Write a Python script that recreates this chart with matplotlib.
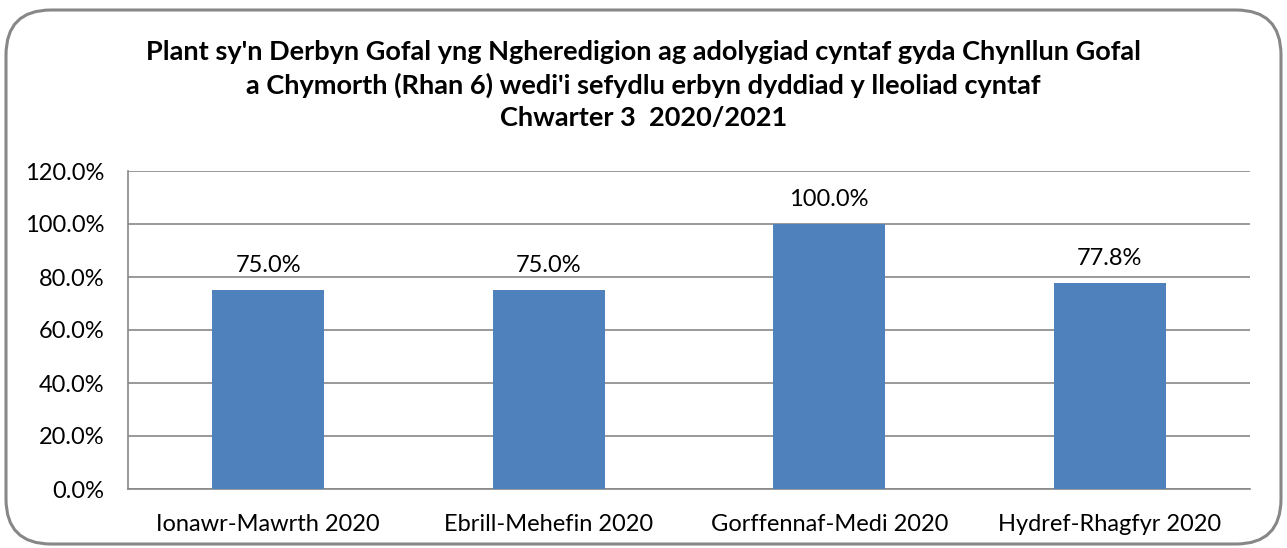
import matplotlib.pyplot as plt
from matplotlib.patches import FancyBboxPatch

# data
categories = ['Ionawr-Mawrth 2020', 'Ebrill-Mehefin 2020', 'Gorffennaf-Medi 2020', 'Hydref-Rhagfyr 2020']
values = [75.0, 75.0, 100.0, 77.8]
yticks = [0, 20, 40, 60, 80, 100, 120]
title = ("Plant sy'n Derbyn Gofal yng Ngheredigion ag adolygiad cyntaf gyda Chynllun Gofal\n"
         "a Chymorth (Rhan 6) wedi'i sefydlu erbyn dyddiad y lleoliad cyntaf\n"
         "Chwarter 3  2020/2021")

plt.rcParams['font.family'] = ['Lato', 'DejaVu Sans']

W, H = 1287, 548
fig = plt.figure(figsize=(W / 100, H / 100), dpi=100)

# rounded border round the whole chart
frame = FancyBboxPatch((6 / W, 4 / H), (W - 12) / W, (H - 14) / H,
                       boxstyle='round,pad=0,rounding_size=0.035',
                       transform=fig.transFigure, facecolor='none',
                       edgecolor='#878787', linewidth=2.2,
                       mutation_aspect=W / H, zorder=0)
fig.patches.append(frame)

fig.text(0.5, 1 - 85 / H, title, ha='center', va='center', fontsize=19.5,
         fontweight='bold', linespacing=1.42)

left, right, top, bottom = 128, 1250, 171, 489
ax = fig.add_axes([left / W, 1 - bottom / H, (right - left) / W, (bottom - top) / H])
ax.set_facecolor('none')

x = range(len(categories))
bars = ax.bar(x, values, width=0.4, color='#4F81BD', zorder=3)
for b, v in zip(bars, values):
    ax.text(b.get_x() + b.get_width() / 2, v + 5.2, f'{v:.1f}%', ha='center',
            va='bottom', fontsize=17)

ax.set_xlim(-0.5, len(categories) - 0.5)
ax.set_ylim(0, 120)
ax.set_yticks(yticks)
ax.set_yticklabels([f'{t:.1f}%' for t in yticks], fontsize=17)
ax.set_xticks(list(x))
ax.set_xticklabels(categories, fontsize=17)
ax.tick_params(length=0)
ax.tick_params(axis='x', pad=18)
ax.tick_params(axis='y', pad=17)
ax.yaxis.grid(True, color='#878787', linewidth=1.2, zorder=0)
for s in ['top', 'right']:
    ax.spines[s].set_visible(False)
for s in ['left', 'bottom']:
    ax.spines[s].set_color('#878787')
    ax.spines[s].set_linewidth(1.2)

fig.savefig('out.png', dpi=100)
